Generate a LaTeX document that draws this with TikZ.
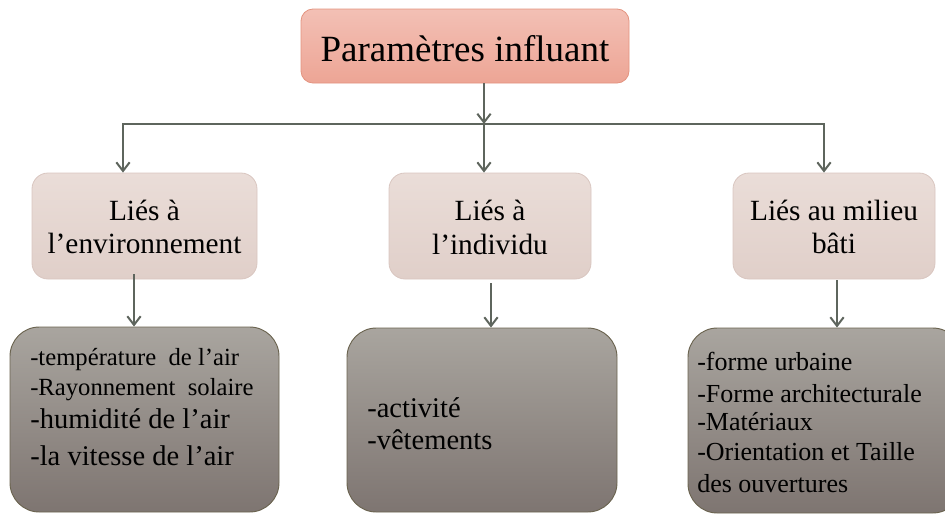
\documentclass[tikz,border=0pt]{standalone}
\usepackage{fontspec}
\setmainfont{Liberation Serif}
\usetikzlibrary{arrows.meta}
\definecolor{toptop}{HTML}{F3C0B5}
\definecolor{topbot}{HTML}{EDA595}
\definecolor{topdraw}{HTML}{E3937F}
\definecolor{midtop}{HTML}{EADDD8}
\definecolor{midbot}{HTML}{E0CFC9}
\definecolor{middraw}{HTML}{D9C6C0}
\definecolor{lowtop}{HTML}{A9A59F}
\definecolor{lowbot}{HTML}{7E7571}
\definecolor{lowdraw}{HTML}{6B6450}
\definecolor{arrowc}{HTML}{5E655D}
\begin{document}
\begin{tikzpicture}[x=0.75pt,y=-0.75pt,
  topbox/.style={draw=topdraw, line width=0.6pt, top color=toptop, bottom color=topbot, rounded corners=9pt, inner sep=0pt},
  midbox/.style={draw=middraw, line width=0.6pt, top color=midtop, bottom color=midbot, rounded corners=12pt, inner sep=0pt, minimum height=79.5pt},
  lowbox/.style={draw=lowdraw, line width=0.7pt, top color=lowtop, bottom color=lowbot, rounded corners=22pt, inner sep=0pt},
  conn/.style={draw=arrowc, line width=1.5pt, -{Straight Barb[length=6.5pt,width=10pt,line width=1.5pt]}},
  txt/.style={inner sep=0pt, text=black},
  ftop/.style={font=\fontsize{27.75pt}{32pt}\selectfont},
  fmid/.style={font=\fontsize{22pt}{26pt}\selectfont},
  fsmall/.style={font=\fontsize{18.5pt}{22pt}\selectfont},
  fbig/.style={font=\fontsize{21.4pt}{25pt}\selectfont},
  fright/.style={font=\fontsize{19.5pt}{24pt}\selectfont}]
\useasboundingbox (0,0) rectangle (945,514);

% boxes
\node[topbox, minimum width=246pt, minimum height=55.5pt] (top) at (465,46) {};
\node[midbox, minimum width=168.75pt] (env) at (144.5,226) {};
\node[midbox, minimum width=151.5pt] (ind) at (490,226) {};
\node[midbox, minimum width=151.5pt] (bat) at (834,226) {};
\node[lowbox, minimum width=201.75pt, minimum height=138.75pt] (envl) at (144.5,419.5) {};
\node[lowbox, minimum width=202.5pt, minimum height=138pt] (indl) at (482,420) {};
\node[lowbox, minimum width=205.5pt, minimum height=138.75pt] (batl) at (825,420.5) {};

% texts
\node[txt, ftop, anchor=base] (ttop) at (465,61) {Paramètres influant};
\node[txt, fmid, anchor=base] (tenv1) at (144.5,220) {Liés à};
\node[txt, fmid, anchor=base] (tenv2) at (144.5,253) {l’environnement};
\node[txt, fmid, anchor=base] (tind1) at (490,220) {Liés à};
\node[txt, fmid, anchor=base] (tind2) at (490,254) {l’individu};
\node[txt, fmid, anchor=base] (tbat1) at (834,220) {Liés au milieu};
\node[txt, fmid, anchor=base] (tbat2) at (834,253) {bâti};

\node[txt, fsmall, anchor=base west] (l1) at (30,365) {-température\ \ de l’air};
\node[txt, fsmall, anchor=base west] (l2) at (30,395) {-Rayonnement\ \ solaire};
\node[txt, fbig, anchor=base west] (l3) at (30,428) {-humidité de l’air};
\node[txt, fbig, anchor=base west] (l4) at (30,465) {-la vitesse de l’air};

\node[txt, fbig, anchor=base west] (m1) at (367,417) {-activité};
\node[txt, fbig, anchor=base west] (m2) at (367,449) {-vêtements};

\node[txt, fright, anchor=base west] (r1) at (697,370) {-forme urbaine};
\node[txt, fright, anchor=base west] (r2) at (697,402) {-Forme architecturale};
\node[txt, fright, anchor=base west] (r3) at (697,430) {-Matériaux};
\node[txt, fright, anchor=base west] (r4) at (697,460) {-Orientation et Taille};
\node[txt, fright, anchor=base west] (r5) at (697,492) {des ouvertures};

% connectors
\coordinate (hj) at (484,124);
\coordinate (hl) at (123,124);
\coordinate (hr) at (824,124);
\draw[conn] (hj |- top.south) -- (hj);
\draw[conn] (hj) -- (hl) -- (hl |- env.north);
\draw[conn] (hj) -- (hr) -- (hr |- bat.north);
\draw[conn] (hj) -- (hj |- ind.north);

\coordinate (a1) at (134,274);
\coordinate (a2) at (491,283);
\coordinate (a3) at (837,280);
\draw[conn] (a1) -- (a1 |- envl.north);
\draw[conn] (a2) -- (a2 |- indl.north);
\draw[conn] (a3) -- (a3 |- batl.north);
\end{tikzpicture}
\end{document}
